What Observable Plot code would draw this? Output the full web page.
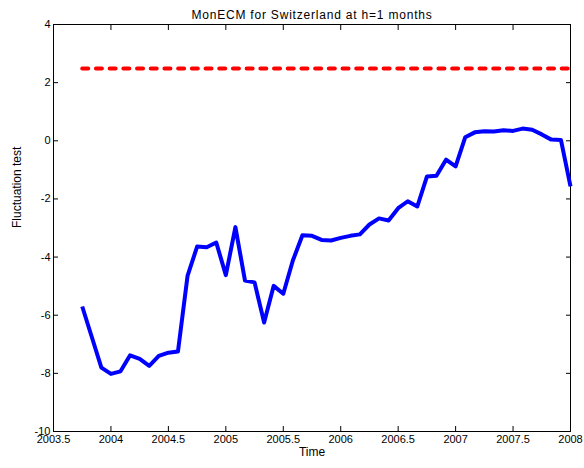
<!DOCTYPE html>
<html>
<head>
<meta charset="utf-8">
<script src="https://cdn.jsdelivr.net/npm/d3@7"></script>
<script src="https://cdn.jsdelivr.net/npm/@observablehq/plot@0.6"></script>
<style>
  html, body { margin: 0; padding: 0; background: #fff; }
  svg { font-family: "Liberation Sans", Arial, sans-serif; }
</style>
</head>
<body>
<div id="chart"></div>
<script>
const title = "MonECM for Switzerland at h=1 months";
const xLabel = "Time";
const yLabel = "Fluctuation test";
const startTime = 2003.75;   // first month shown
const stepMonths = 12;       // observations per year
const fluct = [
  -5.7, -6.75, -7.8, -8.02, -7.93, -7.38, -7.5, -7.74, -7.4, -7.29, -7.25,
  -4.65, -3.64, -3.66, -3.5, -4.62, -2.97, -4.81, -4.87, -6.25, -4.99, -5.26,
  -4.12, -3.25, -3.27, -3.41, -3.43, -3.34, -3.27, -3.22, -2.88, -2.67, -2.74,
  -2.32, -2.08, -2.26, -1.23, -1.2, -0.65, -0.88, 0.12, 0.29, 0.33, 0.32,
  0.36, 0.34, 0.42, 0.38, 0.22, 0.04, 0.03, -1.57
];
const criticalValue = 2.49;
const xTicks = [2003.5, 2004, 2004.5, 2005, 2005.5, 2006, 2006.5, 2007, 2007.5, 2008];
const yTicks = [-10, -8, -6, -4, -2, 0, 2, 4];

const series = fluct.map((v, i) => ({t: startTime + i / stepMonths, v}));
const critLine = [
  {t: series[0].t, v: criticalValue},
  {t: series[series.length - 1].t, v: criticalValue}
];

const plot = Plot.plot({
  width: 584,
  height: 468,
  marginLeft: 53,
  marginRight: 14,
  marginTop: 24,
  marginBottom: 37,
  style: {fontFamily: "Liberation Sans, Arial, sans-serif", fontSize: "11px", color: "#000", background: "#fff"},
  x: {domain: [2003.5, 2008]},
  y: {domain: [-10, 4]},
  marks: [
    Plot.frame({stroke: "#000", strokeWidth: 1}),
    Plot.axisX({anchor: "bottom", ticks: xTicks, tickSize: -5, tickPadding: 9, tickFormat: d => String(d), label: null, fontSize: 11}),
    Plot.axisX({anchor: "top", ticks: xTicks, tickSize: -5, tickFormat: () => "", label: null}),
    Plot.axisY({anchor: "left", ticks: yTicks, tickSize: -5, tickPadding: 8, tickFormat: d => String(d), label: null, fontSize: 11}),
    Plot.axisY({anchor: "right", ticks: yTicks, tickSize: -5, tickFormat: () => "", label: null}),
    Plot.line(critLine, {x: "t", y: "v", stroke: "#ff0000", strokeWidth: 4, strokeDasharray: "6,7.7", strokeLinecap: "round"}),
    Plot.line(series, {x: "t", y: "v", stroke: "#0000ff", strokeWidth: 4, strokeLinejoin: "round", strokeLinecap: "butt"}),
    Plot.text([title], {frameAnchor: "top", dy: -14, text: d => d, fontSize: 12, className: "chart-title"}),
    Plot.text([xLabel], {frameAnchor: "bottom", dy: 24, text: d => d, fontSize: 12}),
    Plot.text([yLabel], {frameAnchor: "left", dx: -36, rotate: -90, text: d => d, fontSize: 12})
  ]
});
d3.select(plot).selectAll(".chart-title text").style("letter-spacing", "0.8px");
document.getElementById("chart").appendChild(plot);
</script>
</body>
</html>
